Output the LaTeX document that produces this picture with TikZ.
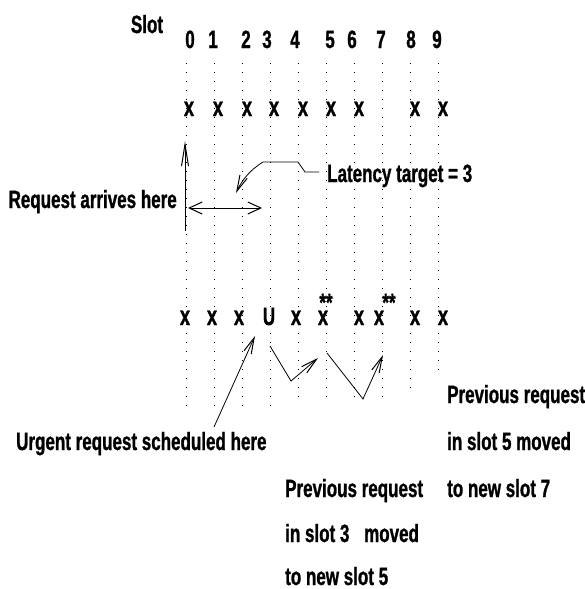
\documentclass[tikz,border=0pt]{standalone}
\usepackage{fontspec}
\setmainfont{Liberation Sans}[FakeStretch=0.68,BoldFeatures={FakeBold=1}]
\usetikzlibrary{arrows.meta}
\begin{document}
\begin{tikzpicture}[x=1pt,y=-1pt,
  lbl/.style={inner sep=0pt, font=\fontsize{25}{29}\selectfont\bfseries},
  mark x/.style={inner sep=0pt, font=\fontsize{27}{31}\selectfont\bfseries},
  slotline/.style={line width=0.8pt, dash pattern=on 1.2pt off 7.8pt},
  conn/.style={line width=0.8pt, -{Straight Barb[length=16pt,width=8pt,line width=1pt]}},
  dconn/.style={line width=0.8pt, {Straight Barb[length=13pt,width=12pt,line width=1pt]}-{Straight Barb[length=13pt,width=12pt,line width=1pt]}},
  vconn/.style={line width=0.8pt, -{Straight Barb[length=22pt,width=7pt,line width=1pt]}},
]
\useasboundingbox (0,0) rectangle (584,589);
% slot guide lines
\foreach \i/\b in {0/410,1/410,2/410,3/410,4/402,5/402,6/402,7/402,8/393,9/372}
  \draw[slotline] ({186+28.05*\i},63) -- ({186+28.05*\i},\b);
% header
\node[lbl,anchor=base] (slot) at (147,33) {Slot};
\foreach \d/\x in {0/190,1/213,2/246,3/267,4/295,5/330,6/352,7/381,8/411,9/437}
  \node[lbl,anchor=base] (n\d) at (\x,48) {\d};
% top row
\foreach \k/\x in {0/189,1/218,2/247,3/274,4/303,5/331,6/359,8/415,9/443}
  \node[mark x,anchor=base] (t\k) at (\x,116) {x};
% bottom row
\foreach \k/\x in {0/185,1/212,2/239,4/296,5/323,6/359,7/379,8/415,9/443}
  \node[mark x,anchor=base] (b\k) at (\x,325) {x};
\node[lbl,anchor=base] (bU) at (269,325) {U};
\node[lbl,anchor=base] (s5) at (326,311) {**};
\node[lbl,anchor=base] (s7) at (389,311) {**};
% texts
\node[lbl,anchor=base east] (arr) at (177,208) {Request arrives here};
\node[lbl,anchor=base west] (lat) at (327,182) {Latency target = 3};
\node[lbl,anchor=base west] (urg) at (16,450) {Urgent request scheduled here};
\node[lbl,anchor=base west] (r1) at (447,403) {Previous request};
\node[lbl,anchor=base west] (r2) at (447,450) {in slot 5 moved};
\node[lbl,anchor=base west] (r3) at (447,497) {to new slot 7};
\node[lbl,anchor=base west] (m1) at (285,497) {Previous request};
\node[lbl,anchor=base west] (m2) at (285,542) {in slot 3\hspace{10pt} moved};
\node[lbl,anchor=base west] (m3) at (285,585) {to new slot 5};
% coordinates
\coordinate (vA) at (185,231);
\coordinate (vB) at (185,141);
\coordinate (hA) at (188,208);
\coordinate (hB) at (262,208);
\coordinate (l1) at (319,172);
\coordinate (l2) at (305,172);
\coordinate (l3) at (298,162);
\coordinate (l4) at (263,162);
\coordinate (l5) at (236,193);
\coordinate (uA) at (214,427);
\coordinate (uB) at (255,336);
\coordinate (pA) at (270,346);
\coordinate (pV) at (291,381);
\coordinate (pB) at (318,358);
\coordinate (qA) at (327,353);
\coordinate (qV) at (363,399);
\coordinate (qB) at (383,355);
% connectors
\draw[vconn] (vA) -- (vB);
\draw[dconn] (hA) -- (hB);
\draw[conn] (l1) -- (l2) -- (l3) -- (l4) .. controls (250,170) and (242,180) .. (l5);
\draw[conn] (uA) -- (uB);
\draw[conn] (pA) -- (pV) -- (pB);
\draw[conn] (qA) -- (qV) -- (qB);
\end{tikzpicture}
\end{document}
